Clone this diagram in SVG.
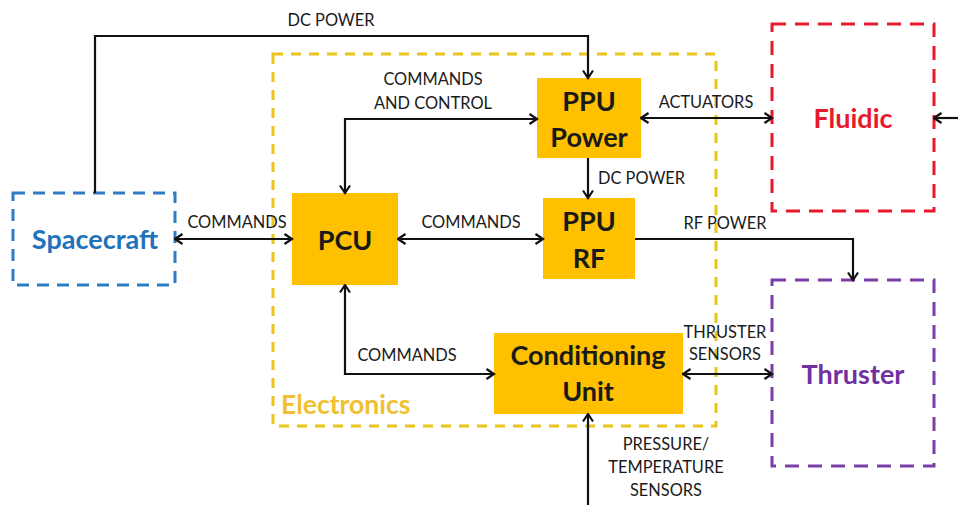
<svg xmlns="http://www.w3.org/2000/svg" width="958" height="505" viewBox="0 0 958 505">
<style>
.box{fill:#FFC000;stroke:none}
.nl{font-family:Lato,"Open Sans",sans-serif;font-weight:bold;font-size:27px;fill:#1a1a1a;text-anchor:middle}
.lb{font-family:Lato,"Open Sans",sans-serif;font-size:16.4px;fill:#1a1a1a}
.ln{fill:none;stroke:#111;stroke-width:2.2}
.dash{fill:none;stroke-width:3;stroke-dasharray:12 8}
</style>
<defs>
<marker id="ah" viewBox="0 0 12 12" refX="10.5" refY="6" markerWidth="12" markerHeight="12" markerUnits="userSpaceOnUse" orient="auto-start-reverse">
<path d="M3,1 L10.5,6 L3,11" fill="none" stroke="#111" stroke-width="2.2"/>
</marker>
</defs>
<g id="electronics">
<rect x="273" y="54" width="443" height="372" class="dash" stroke="#EBC41C" stroke-width="2.5" style="stroke-dasharray:10 8"/>
<text x="281" y="414" font-family="Lato,'Open Sans',sans-serif" font-weight="bold" font-size="26.5" fill="#F0C030">Electronics</text>
</g>
<g id="spacecraft">
<rect x="13" y="193" width="162" height="92" class="dash" stroke="#2E7CC4"/>
<text x="95" y="249" class="nl" style="fill:#1F72BC">Spacecraft</text>
</g>
<g id="fluidic">
<rect x="772" y="24" width="162" height="187" class="dash" stroke="#E8192C" style="stroke-dasharray:14 9"/>
<text x="853" y="128" class="nl" style="fill:#E8192C">Fluidic</text>
</g>
<g id="thruster">
<rect x="772" y="280" width="162" height="186" class="dash" stroke="#7A3FA6" style="stroke-dasharray:14 9"/>
<text x="853" y="384" class="nl" style="fill:#7030A0">Thruster</text>
</g>
<g id="ppu-power">
<rect x="537" y="78" width="104" height="80" class="box"/>
<text x="589" y="111" class="nl">PPU</text>
<text x="589" y="147" class="nl">Power</text>
</g>
<g id="ppu-rf">
<rect x="543" y="198" width="92" height="81" class="box"/>
<text x="589" y="231" class="nl">PPU</text>
<text x="589" y="268" class="nl">RF</text>
</g>
<g id="pcu">
<rect x="292" y="193" width="106" height="92" class="box"/>
<text x="345" y="250" class="nl">PCU</text>
</g>
<g id="conditioning-unit">
<rect x="494" y="333" width="189" height="81" class="box"/>
<text x="588" y="365" class="nl">Conditioning</text>
<text x="588" y="401" class="nl">Unit</text>
</g>
<g id="connectors">
<polyline class="ln" points="95,193 95,36 588,36 588,78" marker-end="url(#ah)"/>
<polyline class="ln" points="537,119 345,119 345,193" marker-start="url(#ah)" marker-end="url(#ah)"/>
<line class="ln" x1="175" y1="239" x2="292" y2="239" marker-start="url(#ah)" marker-end="url(#ah)"/>
<line class="ln" x1="398" y1="239" x2="543" y2="239" marker-start="url(#ah)" marker-end="url(#ah)"/>
<line class="ln" x1="588" y1="158" x2="588" y2="198" marker-end="url(#ah)"/>
<line class="ln" x1="641" y1="118" x2="772" y2="118" marker-start="url(#ah)" marker-end="url(#ah)"/>
<line class="ln" x1="958" y1="118" x2="934" y2="118" marker-end="url(#ah)"/>
<polyline class="ln" points="635,239 853,239 853,280" marker-end="url(#ah)"/>
<polyline class="ln" points="345,285 345,374 494,374" marker-start="url(#ah)" marker-end="url(#ah)"/>
<line class="ln" x1="683" y1="374" x2="772" y2="374" marker-start="url(#ah)" marker-end="url(#ah)"/>
<line class="ln" x1="588" y1="505" x2="588" y2="414" marker-end="url(#ah)"/>
<text class="lb" x="331" y="26" text-anchor="middle">DC POWER</text>
<text class="lb" x="433" y="85" text-anchor="middle">COMMANDS</text>
<text class="lb" x="433" y="109" text-anchor="middle">AND CONTROL</text>
<text class="lb" x="237" y="228" text-anchor="middle">COMMANDS</text>
<text class="lb" x="471" y="228" text-anchor="middle">COMMANDS</text>
<text class="lb" x="598" y="184">DC POWER</text>
<text class="lb" x="706" y="108" text-anchor="middle">ACTUATORS</text>
<text class="lb" x="725" y="229" text-anchor="middle">RF POWER</text>
<text class="lb" x="407" y="361" text-anchor="middle">COMMANDS</text>
<text class="lb" x="725" y="338" text-anchor="middle">THRUSTER</text>
<text class="lb" x="725" y="360" text-anchor="middle">SENSORS</text>
<text class="lb" x="666" y="450" text-anchor="middle">PRESSURE/</text>
<text class="lb" x="666" y="473" text-anchor="middle">TEMPERATURE</text>
<text class="lb" x="666" y="496" text-anchor="middle">SENSORS</text>
</g>
</svg>
